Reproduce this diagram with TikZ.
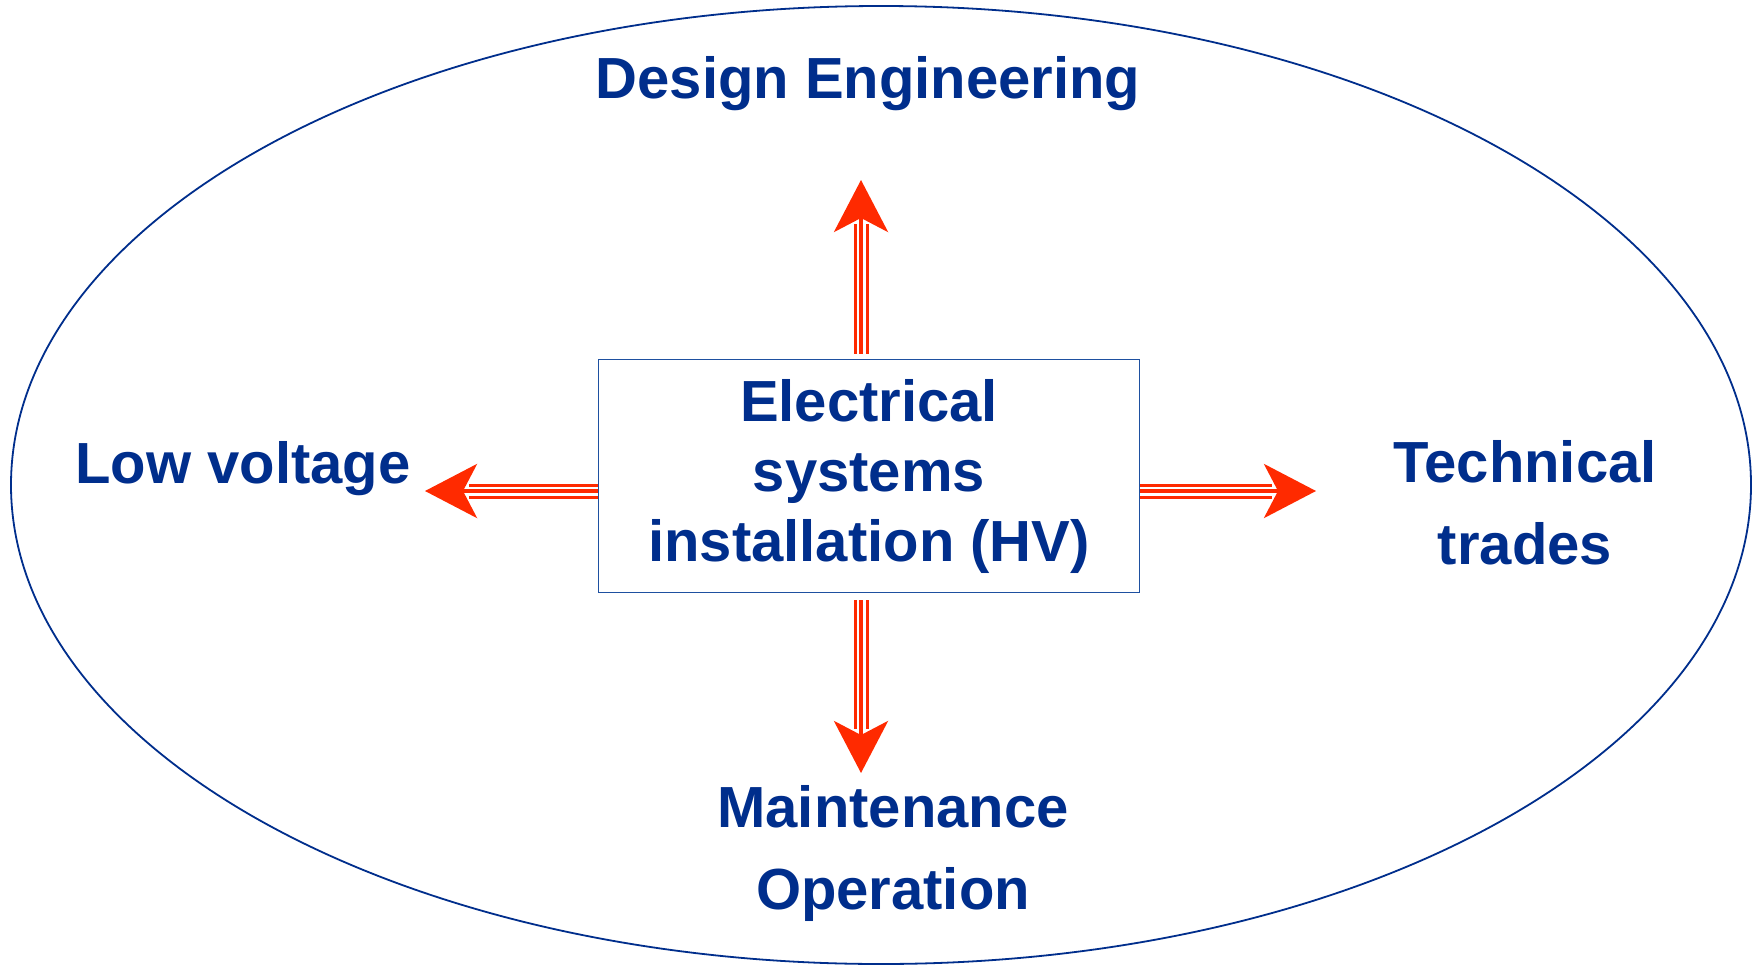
\documentclass[tikz,border=0pt]{standalone}
\usepackage{fontspec}
\setmainfont{Liberation Sans}
\usetikzlibrary{positioning,arrows.meta}
\definecolor{Navy}{RGB}{0,46,140}
\definecolor{Frame}{RGB}{30,80,160}
\definecolor{Signal}{RGB}{255,42,0}

\begin{document}
\begin{tikzpicture}[
    x=1pt,
    y=-1pt,
    every node/.style={align=center},
    label/.style={
      text=Navy,
      font=\fontsize{58}{82}\selectfont\bfseries,
      inner sep=0pt
    },
    corebox/.style={
      draw=Frame,
      fill=white,
      line width=1.6pt,
      minimum width=541pt,
      minimum height=233pt,
      text=Navy,
      font=\fontsize{58}{70}\selectfont\bfseries,
      inner sep=0pt
    },
    ring/.style={draw=Navy, line width=1.8pt},
    flow/.style={
      draw=Signal,
      line width=4pt,
      -{Stealth[length=52pt, width=54pt, inset=14pt]},
      preaction={draw=Signal, line width=15pt, shorten >=44pt, -},
      preaction={draw=white, line width=9pt, shorten >=44pt, -}
    }
  ]
    \useasboundingbox (0,0) rectangle (1761,966);
    \fill[white] (0,0) rectangle (1761,966);

    % Outer field
    \draw[ring] (881,485) ellipse [x radius=870, y radius=479];

    % Central box
    \node[corebox] (hv) at (869,476) {Electrical\\systems\\installation (HV)};

    % Surrounding fields
    \node[label, anchor=base] (design) at (868,99) {Design Engineering};
    \node[label, anchor=base] (low) at (243,483) {Low voltage};
    \node[label] (trades) at (1525,503) {Technical\\trades};
    \node[label] (maint) at (893,853) {Maintenance\\Operation};

    % Arrow tips
    \coordinate (uptip) at (861,180);
    \coordinate (downtip) at (861,773);
    \coordinate (lefttip) at (425,491);
    \coordinate (righttip) at (1316,491);

    % Flow arrows
    \draw[flow] ([yshift=5pt]hv.north -| uptip) -- (uptip);
    \draw[flow] ([yshift=-7pt]hv.south -| downtip) -- (downtip);
    \draw[flow] (hv.west |- lefttip) -- (lefttip);
    \draw[flow] (hv.east |- righttip) -- (righttip);
  \end{tikzpicture}
\end{document}
